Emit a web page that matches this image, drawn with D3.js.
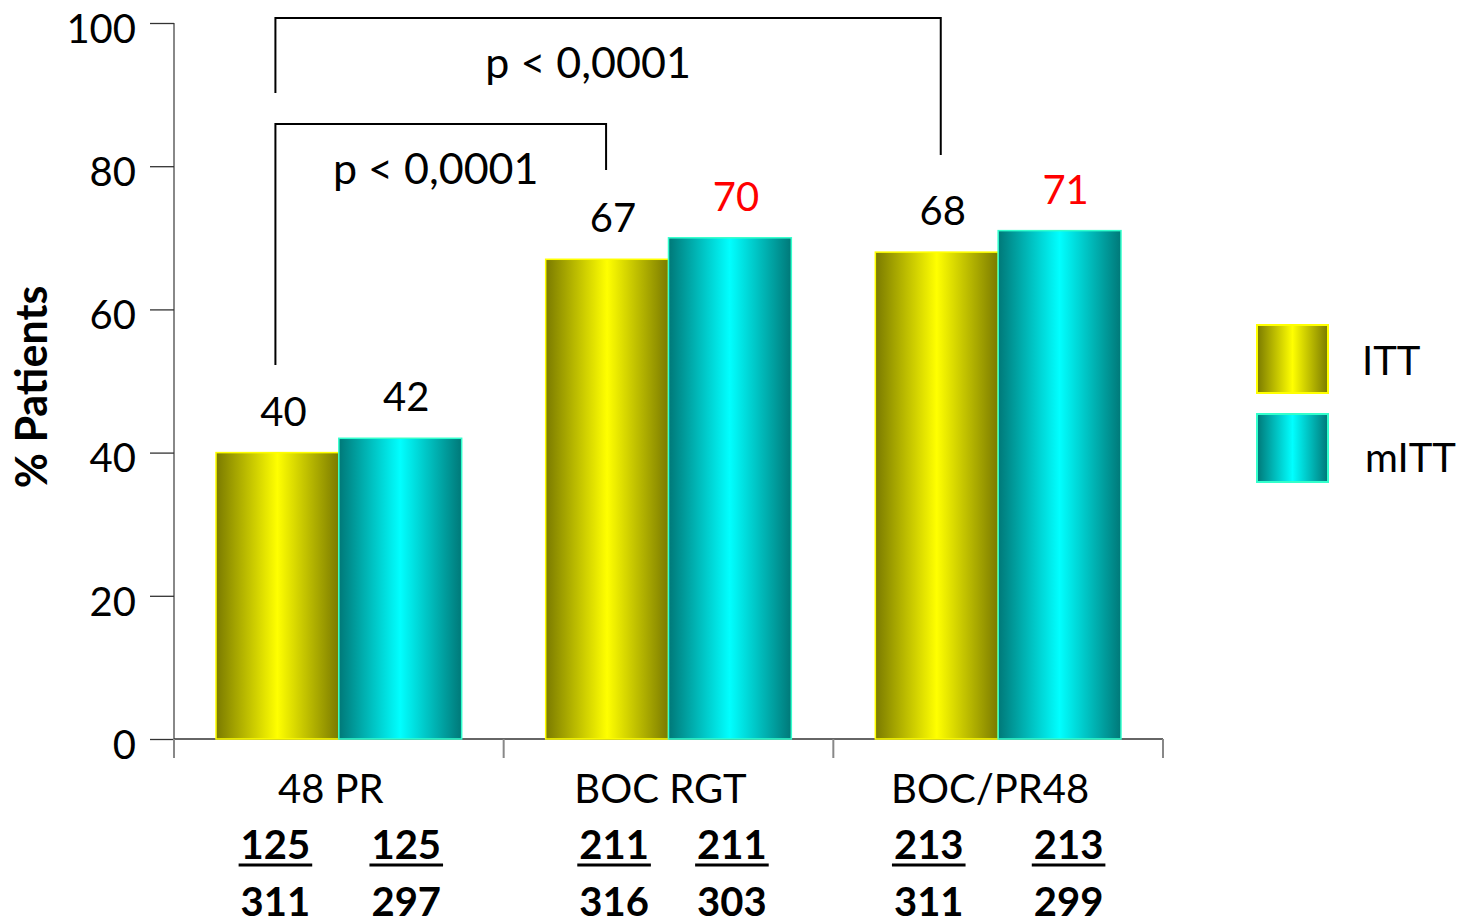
<!DOCTYPE html>
<html>
<head>
<meta charset="utf-8">
<script src="https://cdn.jsdelivr.net/npm/d3@7"></script>
<style>
  html, body { margin: 0; padding: 0; background: #fff; }
  svg { display: block; font-family: Lato, "Open Sans", sans-serif; }
</style>
</head>
<body>
<svg id="chart" width="1470" height="920"></svg>
<script>
// Response rates (% patients) per treatment arm, ITT vs mITT populations
const categories = ["48 PR", "BOC RGT", "BOC/PR48"];
const seriesNames = ["ITT", "mITT"];
const ittValues = [40, 67, 68];
const mittValues = [42, 70, 71];
// responders / patients under each bar
const respondersITT = [125, 211, 213];
const respondersMITT = [125, 211, 213];
const totalITT = [311, 316, 311];
const totalMITT = [297, 303, 299];
const yTicks = [0, 20, 40, 60, 80, 100];
const labelColors = { ITT: ["#000", "#000", "#000"], mITT: ["#000", "#f00", "#f00"] };
// significance brackets between ITT bars of two arms
const comparisons = [
  { from: 0, to: 2, label: "p < 0,0001", level: 0 },
  { from: 0, to: 1, label: "p < 0,0001", level: 1 }
];

const svg = d3.select("#chart");
const plot = { left: 174, right: 1163, top: 23, bottom: 739 };

const y = d3.scaleLinear().domain([0, 100]).range([plot.bottom, plot.top]);
const x0 = d3.scaleBand().domain(categories).range([plot.left, plot.right]).padding(0);
const x1 = d3.scaleBand().domain(seriesNames).range([42, x0.bandwidth() - 42]).padding(0);

// gradients
const defs = svg.append("defs");
function grad(id, edge, mid) {
  const g = defs.append("linearGradient").attr("id", id).attr("x1", "0%").attr("x2", "100%");
  g.append("stop").attr("offset", "0%").attr("stop-color", edge);
  g.append("stop").attr("offset", "50%").attr("stop-color", mid);
  g.append("stop").attr("offset", "100%").attr("stop-color", edge);
}
grad("gITT", "#7a7a00", "#ffff00");
grad("gMITT", "#007878", "#00ffff");
const fills = { ITT: "url(#gITT)", mITT: "url(#gMITT)" };
const strokes = { ITT: "#ffff00", mITT: "#33ffcc" };

// y axis
const yAxis = d3.axisLeft(y).tickValues(yTicks).tickSize(24).tickPadding(14);
const gy = svg.append("g").attr("transform", `translate(${plot.left},0)`).call(yAxis);
gy.select(".domain").attr("stroke", "#888").attr("stroke-width", 2)
  .attr("d", `M0,${plot.top}V${plot.bottom + 19}`);
gy.selectAll(".tick line").attr("stroke", "#333").attr("stroke-width", 1.3);
gy.selectAll(".tick text").attr("font-size", 40).attr("fill", "#000")
  .attr("font-family", "Lato, sans-serif").attr("dy", "0.48em");

// x axis baseline and category ticks
svg.append("line").attr("x1", plot.left).attr("x2", plot.right)
  .attr("y1", y(0)).attr("y2", y(0)).attr("stroke", "#333").attr("stroke-width", 1.5);
const boundaries = categories.map(c => x0(c)).concat([x0(categories[categories.length - 1]) + x0.bandwidth()]);
svg.selectAll(".xtick").data(boundaries).join("line")
  .attr("x1", d => d).attr("x2", d => d)
  .attr("y1", y(0)).attr("y2", y(0) + 19)
  .attr("stroke", "#888").attr("stroke-width", 2);

// bars
const rows = categories.map((c, i) => ({
  cat: c, i,
  vals: [
    { s: "ITT", v: ittValues[i], n: respondersITT[i], t: totalITT[i] },
    { s: "mITT", v: mittValues[i], n: respondersMITT[i], t: totalMITT[i] }
  ]
}));

const groups = svg.selectAll(".grp").data(rows).join("g")
  .attr("transform", d => `translate(${x0(d.cat)},0)`);

groups.selectAll("rect").data(d => d.vals).join("rect")
  .attr("x", d => x1(d.s))
  .attr("y", d => y(d.v))
  .attr("width", x1.bandwidth())
  .attr("height", d => y(0) - y(d.v))
  .attr("fill", d => fills[d.s])
  .attr("stroke", d => strokes[d.s]).attr("stroke-width", 1.5);

// value labels
groups.each(function (row) {
  d3.select(this).selectAll(".val").data(row.vals).join("text")
    .attr("x", d => x1(d.s) + x1.bandwidth() / 2 + 6)
    .attr("y", d => y(d.v) - 27)
    .attr("text-anchor", "middle")
    .attr("font-size", 40)
    .attr("fill", d => labelColors[d.s][row.i])
    .text(d => d.v);
});

// category labels
groups.append("text")
  .attr("x", x0.bandwidth() / 2 - 8)
  .attr("y", 803)
  .attr("text-anchor", "middle")
  .attr("font-size", 40)
  .text(d => d.cat);

// responders / totals below each bar (text boxes nudged from bar centres)
const nOffset = { ITT: [-2, 7, -8], mITT: [6, 2, 9] };
groups.each(function (row) {
  const g = d3.select(this);
  row.vals.forEach(d => {
    const cx = x1(d.s) + x1.bandwidth() / 2 + nOffset[d.s][row.i];
    const t = g.append("text").attr("x", cx).attr("y", 859)
      .attr("text-anchor", "middle").attr("font-size", 40).attr("font-weight", "bold")
      .text(d.n);
    const w = t.node().getComputedTextLength();
    g.append("line").attr("x1", cx - w / 2 - 2).attr("x2", cx + w / 2 + 2)
      .attr("y1", 865).attr("y2", 865).attr("stroke", "#000").attr("stroke-width", 3);
    g.append("text").attr("x", cx).attr("y", 916)
      .attr("text-anchor", "middle").attr("font-size", 40).attr("font-weight", "bold")
      .text(d.t);
  });
});

// significance brackets
const barCenter = (i, s) => x0(categories[i]) + x1(s) + x1.bandwidth() / 2;
const bracketTop = [18, 124];
const bracketLeftEnd = [93, 365];
const bracketRightEnd = [155, 170];
comparisons.forEach(c => {
  const xa = barCenter(c.from, "ITT") - 2;
  const xb = barCenter(c.to, "ITT") + (c.level === 0 ? 4 : -1);
  const yt = bracketTop[c.level];
  svg.append("path")
    .attr("d", `M${xa},${bracketLeftEnd[c.level]}V${yt}H${xb}V${bracketRightEnd[c.level]}`)
    .attr("fill", "none").attr("stroke", "#000").attr("stroke-width", 2);
  svg.append("text")
    .attr("x", c.level === 0 ? (xa + xb) / 2 - 20 : (xa + xb) / 2 - 5)
    .attr("y", yt + 60)
    .attr("text-anchor", "middle").attr("font-size", 43)
    .text(c.label);
});

// y axis title
svg.append("text")
  .attr("transform", "translate(47,387) rotate(-90)")
  .attr("text-anchor", "middle")
  .attr("font-size", 43).attr("font-weight", "bold")
  .text("% Patients");

// legend
const legend = svg.append("g").attr("transform", "translate(1257,325)");
seriesNames.forEach((s, i) => {
  legend.append("rect").attr("x", 0).attr("y", i * 89)
    .attr("width", 71).attr("height", 68)
    .attr("fill", fills[s]).attr("stroke", strokes[s]).attr("stroke-width", 2);
  legend.append("text").attr("x", i === 0 ? 105 : 108).attr("y", i * 97 + 50)
    .attr("font-size", 40).text(s);
});
</script>
</body>
</html>
